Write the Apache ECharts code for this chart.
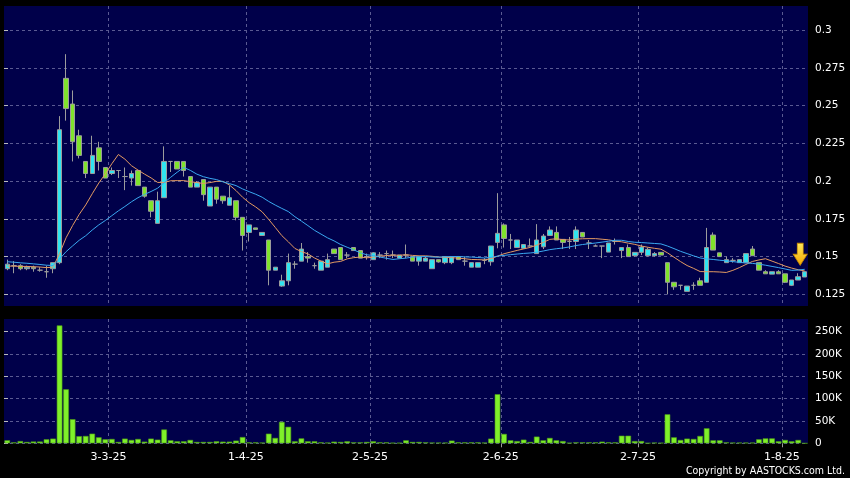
<!DOCTYPE html>
<html>
<head>
<meta charset="utf-8">
<script src="https://cdn.jsdelivr.net/npm/echarts@6/dist/echarts.min.js"></script>
<style>
html,body{margin:0;padding:0;background:#000;}
#c{width:850px;height:478px;}
</style>
</head>
<body>
<div id="c"></div>
<script>
// ---- DATA ----
const dates = [
 '7-2-25','10-2-25','11-2-25','12-2-25','13-2-25','14-2-25','17-2-25','18-2-25','19-2-25','20-2-25','21-2-25','24-2-25','25-2-25','26-2-25','27-2-25','28-2-25',
 '3-3-25','4-3-25','5-3-25','6-3-25','7-3-25','10-3-25','11-3-25','12-3-25','13-3-25','14-3-25','17-3-25','18-3-25','19-3-25','20-3-25','21-3-25','24-3-25','25-3-25','26-3-25','27-3-25','28-3-25','31-3-25',
 '1-4-25','2-4-25','3-4-25','7-4-25','8-4-25','9-4-25','10-4-25','11-4-25','14-4-25','15-4-25','16-4-25','17-4-25','22-4-25','23-4-25','24-4-25','25-4-25','28-4-25','29-4-25','30-4-25',
 '2-5-25','6-5-25','7-5-25','8-5-25','9-5-25','12-5-25','13-5-25','14-5-25','15-5-25','16-5-25','19-5-25','20-5-25','21-5-25','22-5-25','23-5-25','26-5-25','27-5-25','28-5-25','29-5-25','30-5-25',
 '2-6-25','3-6-25','4-6-25','5-6-25','6-6-25','9-6-25','10-6-25','11-6-25','12-6-25','13-6-25','16-6-25','17-6-25','18-6-25','19-6-25','20-6-25','23-6-25','24-6-25','25-6-25','26-6-25','27-6-25','30-6-25',
 '2-7-25','3-7-25','4-7-25','7-7-25','8-7-25','9-7-25','10-7-25','11-7-25','14-7-25','15-7-25','16-7-25','17-7-25','18-7-25','21-7-25','22-7-25','23-7-25','24-7-25','25-7-25','28-7-25','29-7-25','30-7-25','31-7-25',
 '1-8-25','4-8-25','5-8-25','6-8-25'
];
const openP = [
 0.142,0.144,0.144,0.142,0.143,0.141,0.140,0.142,0.146,0.268,0.251,0.230,0.213,0.205,0.222,0.209,
 0.205,0.207,0.203,0.202,0.207,0.196,0.187,0.172,0.189,0.213,0.213,0.213,0.203,0.196,0.201,0.1835,0.196,0.190,0.184,0.187,0.176,
 0.166,0.169,0.164,0.161,0.141,0.1305,0.134,0.145,0.147,0.150,0.144,0.141,0.143,0.155,0.156,0.151,0.156,0.154,0.150,
 0.148,0.151,0.152,0.151,0.149,0.151,0.150,0.147,0.147,0.142,0.148,0.146,0.146,0.150,0.147,0.143,0.143,0.1475,0.1466,0.1594,
 0.171,0.161,0.156,0.1555,0.157,0.152,0.1565,0.164,0.166,0.1614,0.160,0.160,0.166,0.159,0.157,0.157,0.153,0.160,0.154,0.156,0.1506,
 0.1528,0.1506,0.1506,0.1528,0.146,0.133,0.131,0.127,0.131,0.134,0.133,0.1643,0.1525,0.146,0.1475,0.146,0.146,0.155,0.146,0.140,0.1384,0.140,
 0.1386,0.131,0.1345,0.1365
];
const highP = [
 0.148,0.147,0.145,0.144,0.144,0.143,0.144,0.146,0.243,0.284,0.260,0.234,0.213,0.230,0.226,0.209,
 0.209,0.207,0.209,0.207,0.207,0.196,0.187,0.193,0.223,0.213,0.213,0.213,0.203,0.200,0.201,0.196,0.196,0.190,0.197,0.187,0.176,
 0.171,0.169,0.166,0.161,0.143,0.138,0.152,0.147,0.159,0.153,0.146,0.147,0.152,0.155,0.156,0.153,0.156,0.154,0.152,
 0.153,0.153,0.154,0.154,0.151,0.158,0.150,0.150,0.150,0.148,0.148,0.150,0.150,0.150,0.150,0.146,0.146,0.149,0.157,0.192,
 0.172,0.165,0.161,0.158,0.162,0.1715,0.165,0.170,0.170,0.1614,0.163,0.170,0.166,0.161,0.158,0.157,0.159,0.162,0.156,0.158,0.153,
 0.158,0.156,0.153,0.153,0.146,0.133,0.131,0.1305,0.133,0.136,0.169,0.166,0.1525,0.150,0.149,0.148,0.152,0.157,0.146,0.141,0.140,0.141,
 0.1386,0.1345,0.139,0.140
];
const lowP = [
 0.141,0.139,0.141,0.141,0.140,0.140,0.136,0.139,0.145,0.240,0.213,0.215,0.202,0.205,0.207,0.202,
 0.204,0.202,0.194,0.197,0.197,0.189,0.176,0.172,0.189,0.206,0.208,0.203,0.196,0.196,0.187,0.1835,0.185,0.185,0.184,0.174,0.154,
 0.160,0.168,0.164,0.131,0.141,0.130,0.131,0.142,0.147,0.146,0.142,0.141,0.143,0.152,0.148,0.149,0.154,0.149,0.148,
 0.148,0.149,0.148,0.149,0.149,0.149,0.147,0.144,0.147,0.142,0.146,0.145,0.145,0.148,0.144,0.143,0.143,0.145,0.144,0.1555,
 0.156,0.155,0.156,0.1555,0.157,0.152,0.155,0.164,0.161,0.155,0.155,0.155,0.163,0.155,0.157,0.149,0.153,0.158,0.149,0.150,0.150,
 0.151,0.150,0.150,0.151,0.125,0.128,0.128,0.127,0.128,0.131,0.133,0.1543,0.150,0.146,0.146,0.146,0.146,0.1506,0.141,0.1386,0.1384,0.1386,
 0.1325,0.1305,0.1345,0.1365
];
const closeP = [
 0.145,0.144,0.142,0.143,0.142,0.141,0.140,0.146,0.234,0.248,0.226,0.217,0.205,0.217,0.213,0.202,
 0.207,0.207,0.203,0.205,0.197,0.190,0.180,0.187,0.213,0.213,0.208,0.207,0.196,0.199,0.191,0.196,0.188,0.187,0.189,0.176,0.164,
 0.171,0.168,0.166,0.141,0.143,0.134,0.146,0.145,0.155,0.149,0.144,0.147,0.148,0.152,0.148,0.151,0.154,0.149,0.150,
 0.1525,0.151,0.152,0.151,0.151,0.151,0.147,0.150,0.149,0.148,0.1465,0.150,0.150,0.148,0.147,0.146,0.146,0.1475,0.157,0.1654,
 0.162,0.161,0.161,0.158,0.157,0.161,0.1636,0.1676,0.161,0.1594,0.160,0.1676,0.163,0.159,0.157,0.157,0.159,0.160,0.156,0.150,0.1528,
 0.1563,0.1548,0.152,0.151,0.133,0.130,0.131,0.1305,0.131,0.131,0.156,0.1543,0.150,0.148,0.1475,0.148,0.152,0.1506,0.141,0.1386,0.140,0.1386,
 0.133,0.1345,0.1367,0.140
];
const volume = [
 6700,2000,5000,3000,4000,4000,9000,10500,264000,121000,54000,16000,16400,21600,13400,9000,
 9700,3000,10500,7500,9700,3700,10500,8200,31000,6700,4500,4500,7500,3000,3000,3000,4500,3700,3700,6000,14000,
 2000,2000,1500,21600,12000,48000,37000,4500,11000,4500,4500,2000,1500,3700,3000,4500,2000,2000,3000,
 4500,2000,2000,1000,1000,6700,3000,3000,2000,1500,1500,1500,6000,2000,2000,2000,2000,1500,10500,110000,
 21000,6700,5000,8200,3000,15000,6700,12000,6700,5000,1000,2000,2000,2000,2000,3700,2000,2000,17000,17000,5000,
 5000,500,1500,1000,65000,13400,7500,10500,9700,16400,33600,6700,6700,2000,1500,1500,1500,1500,9000,11000,11000,4500,
 7500,4500,7500,0
];
// estimated closes of the sessions just before the window (only feed the moving averages' first points)
const maSeedCloses = [0.150,0.150,0.149,0.150,0.149,0.150,0.149,0.149,0.150,0.149,0.144,0.144,0.143,0.144,0.143,0.144,0.143,0.144,0.143];
const xTickLabels = ['3-3-25','1-4-25','2-5-25','2-6-25','2-7-25','1-8-25'];
const priceTicks = [0.125,0.15,0.175,0.2,0.225,0.25,0.275,0.3];
const volumeTicks = [0,50000,100000,150000,200000,250000];

// ---- build ----
function movingAverage(n){
  const all = maSeedCloses.concat(closeP);
  const off = maSeedCloses.length;
  return closeP.map((_, i) => {
    let s = 0;
    for (let k = off + i - n + 1; k <= off + i; k++) s += all[k];
    return +(s / n).toFixed(4);
  });
}
const candleData = dates.map((d, i) => [openP[i], closeP[i], lowP[i], highP[i]]);
// session index where each labelled date starts (its slot's left edge on a 0..N scale)
const xTickIdx = xTickLabels.map(l => dates.indexOf(l));
const N = dates.length;
const gridLine = {show:true, lineStyle:{color:'#5a5a92', width:1, type:[3,3]}};
const font = 'DejaVu Sans';

const hiddenCat = (g) => ({type:'category', gridIndex:g, data:dates, boundaryGap:true,
  axisLine:{show:false}, axisTick:{show:false}, axisLabel:{show:false}, splitLine:{show:false}});

const chart = echarts.init(document.getElementById('c'), null, {renderer:'canvas', width:850, height:478});
chart.setOption({
  animation:false,
  backgroundColor:'#000',
  grid:[
    {left:4, top:6, width:804, height:300, show:true, backgroundColor:'#00004a', borderWidth:0},
    {left:4, top:319, width:804, height:124.3, show:true, backgroundColor:'#00004a', borderWidth:0}
  ],
  xAxis:[
    hiddenCat(0),
    hiddenCat(1),
    {type:'value', gridIndex:0, min:0, max:N, position:'bottom',
     axisLine:{show:false},
     axisTick:{show:false, customValues:xTickIdx},
     axisLabel:{show:true, customValues:xTickIdx, color:'rgba(0,0,0,0)', fontSize:8,
       formatter:v => dates[Math.round(v)]},
     splitLine:gridLine},
    {type:'value', gridIndex:1, min:0, max:N, position:'bottom',
     axisLine:{show:false},
     axisTick:{show:true, length:4, customValues:xTickIdx, lineStyle:{color:'#9a9a9a'}},
     axisLabel:{show:true, customValues:xTickIdx, color:'#fff', fontSize:11, fontFamily:font, margin:8,
       formatter:v => dates[Math.round(v)]},
     splitLine:gridLine}
  ],
  yAxis:[
    {type:'value', gridIndex:0, position:'right', offset:2, min:0.1173, max:0.3159,
     axisLine:{show:false},
     axisTick:{show:true, length:4, customValues:priceTicks, lineStyle:{color:'#bbb'}},
     axisLabel:{show:true, customValues:priceTicks, color:'#fff', fontSize:10.5, fontFamily:font, margin:5,
       formatter:v => String(+(+v).toFixed(3))},
     splitLine:gridLine},
    {type:'value', gridIndex:1, position:'right', offset:2, min:0, max:278400,
     axisLine:{show:false},
     axisTick:{show:true, length:4, customValues:volumeTicks, lineStyle:{color:'#bbb'}},
     axisLabel:{show:true, customValues:volumeTicks, color:'#fff', fontSize:10.5, fontFamily:font, margin:5,
       formatter:v => v === 0 ? '0' : (v/1000) + 'K'},
     splitLine:gridLine}
  ],
  series:[
    {type:'candlestick', xAxisIndex:0, yAxisIndex:0, data:candleData, barWidth:'76%',
     itemStyle:{color:'#30e4f0', color0:'#80e32c', borderColor:'#9c9c9c', borderColor0:'#9c9c9c', borderWidth:1},
     markPoint:{
       symbol:'path://M4,0 L10,0 L10,11 L14,11 L7,22 L0,11 L4,11 Z',
       symbolSize:[14,22], symbolOffset:[2,0], label:{show:false},
       itemStyle:{color:new echarts.graphic.LinearGradient(0,0,0,1,[{offset:0,color:'#ffe95a'},{offset:1,color:'#f2a600'}]),
                  borderColor:'#c98a00', borderWidth:0.8},
       data:[{coord:[dates[121], 0.1515]}]
     }},
    {type:'line', xAxisIndex:0, yAxisIndex:0, data:movingAverage(10), symbol:'none', smooth:false,
     lineStyle:{color:'#e39a62', width:1}},
    {type:'line', xAxisIndex:0, yAxisIndex:0, data:movingAverage(20), symbol:'none', smooth:false,
     lineStyle:{color:'#3aa8f0', width:1}},
    {type:'bar', xAxisIndex:1, yAxisIndex:1, data:volume, barWidth:'86%',
     itemStyle:{color:'#7ff02a', borderColor:'#4f9e16', borderWidth:0.6}}
  ],
  graphic:[
    {type:'text', right:5, top:466,
     style:{text:'Copyright by AASTOCKS.com Ltd.', fill:'#fff', font:'10.5px "DejaVu Sans Condensed", "DejaVu Sans", sans-serif'}}
  ]
});
</script>
</body>
</html>
